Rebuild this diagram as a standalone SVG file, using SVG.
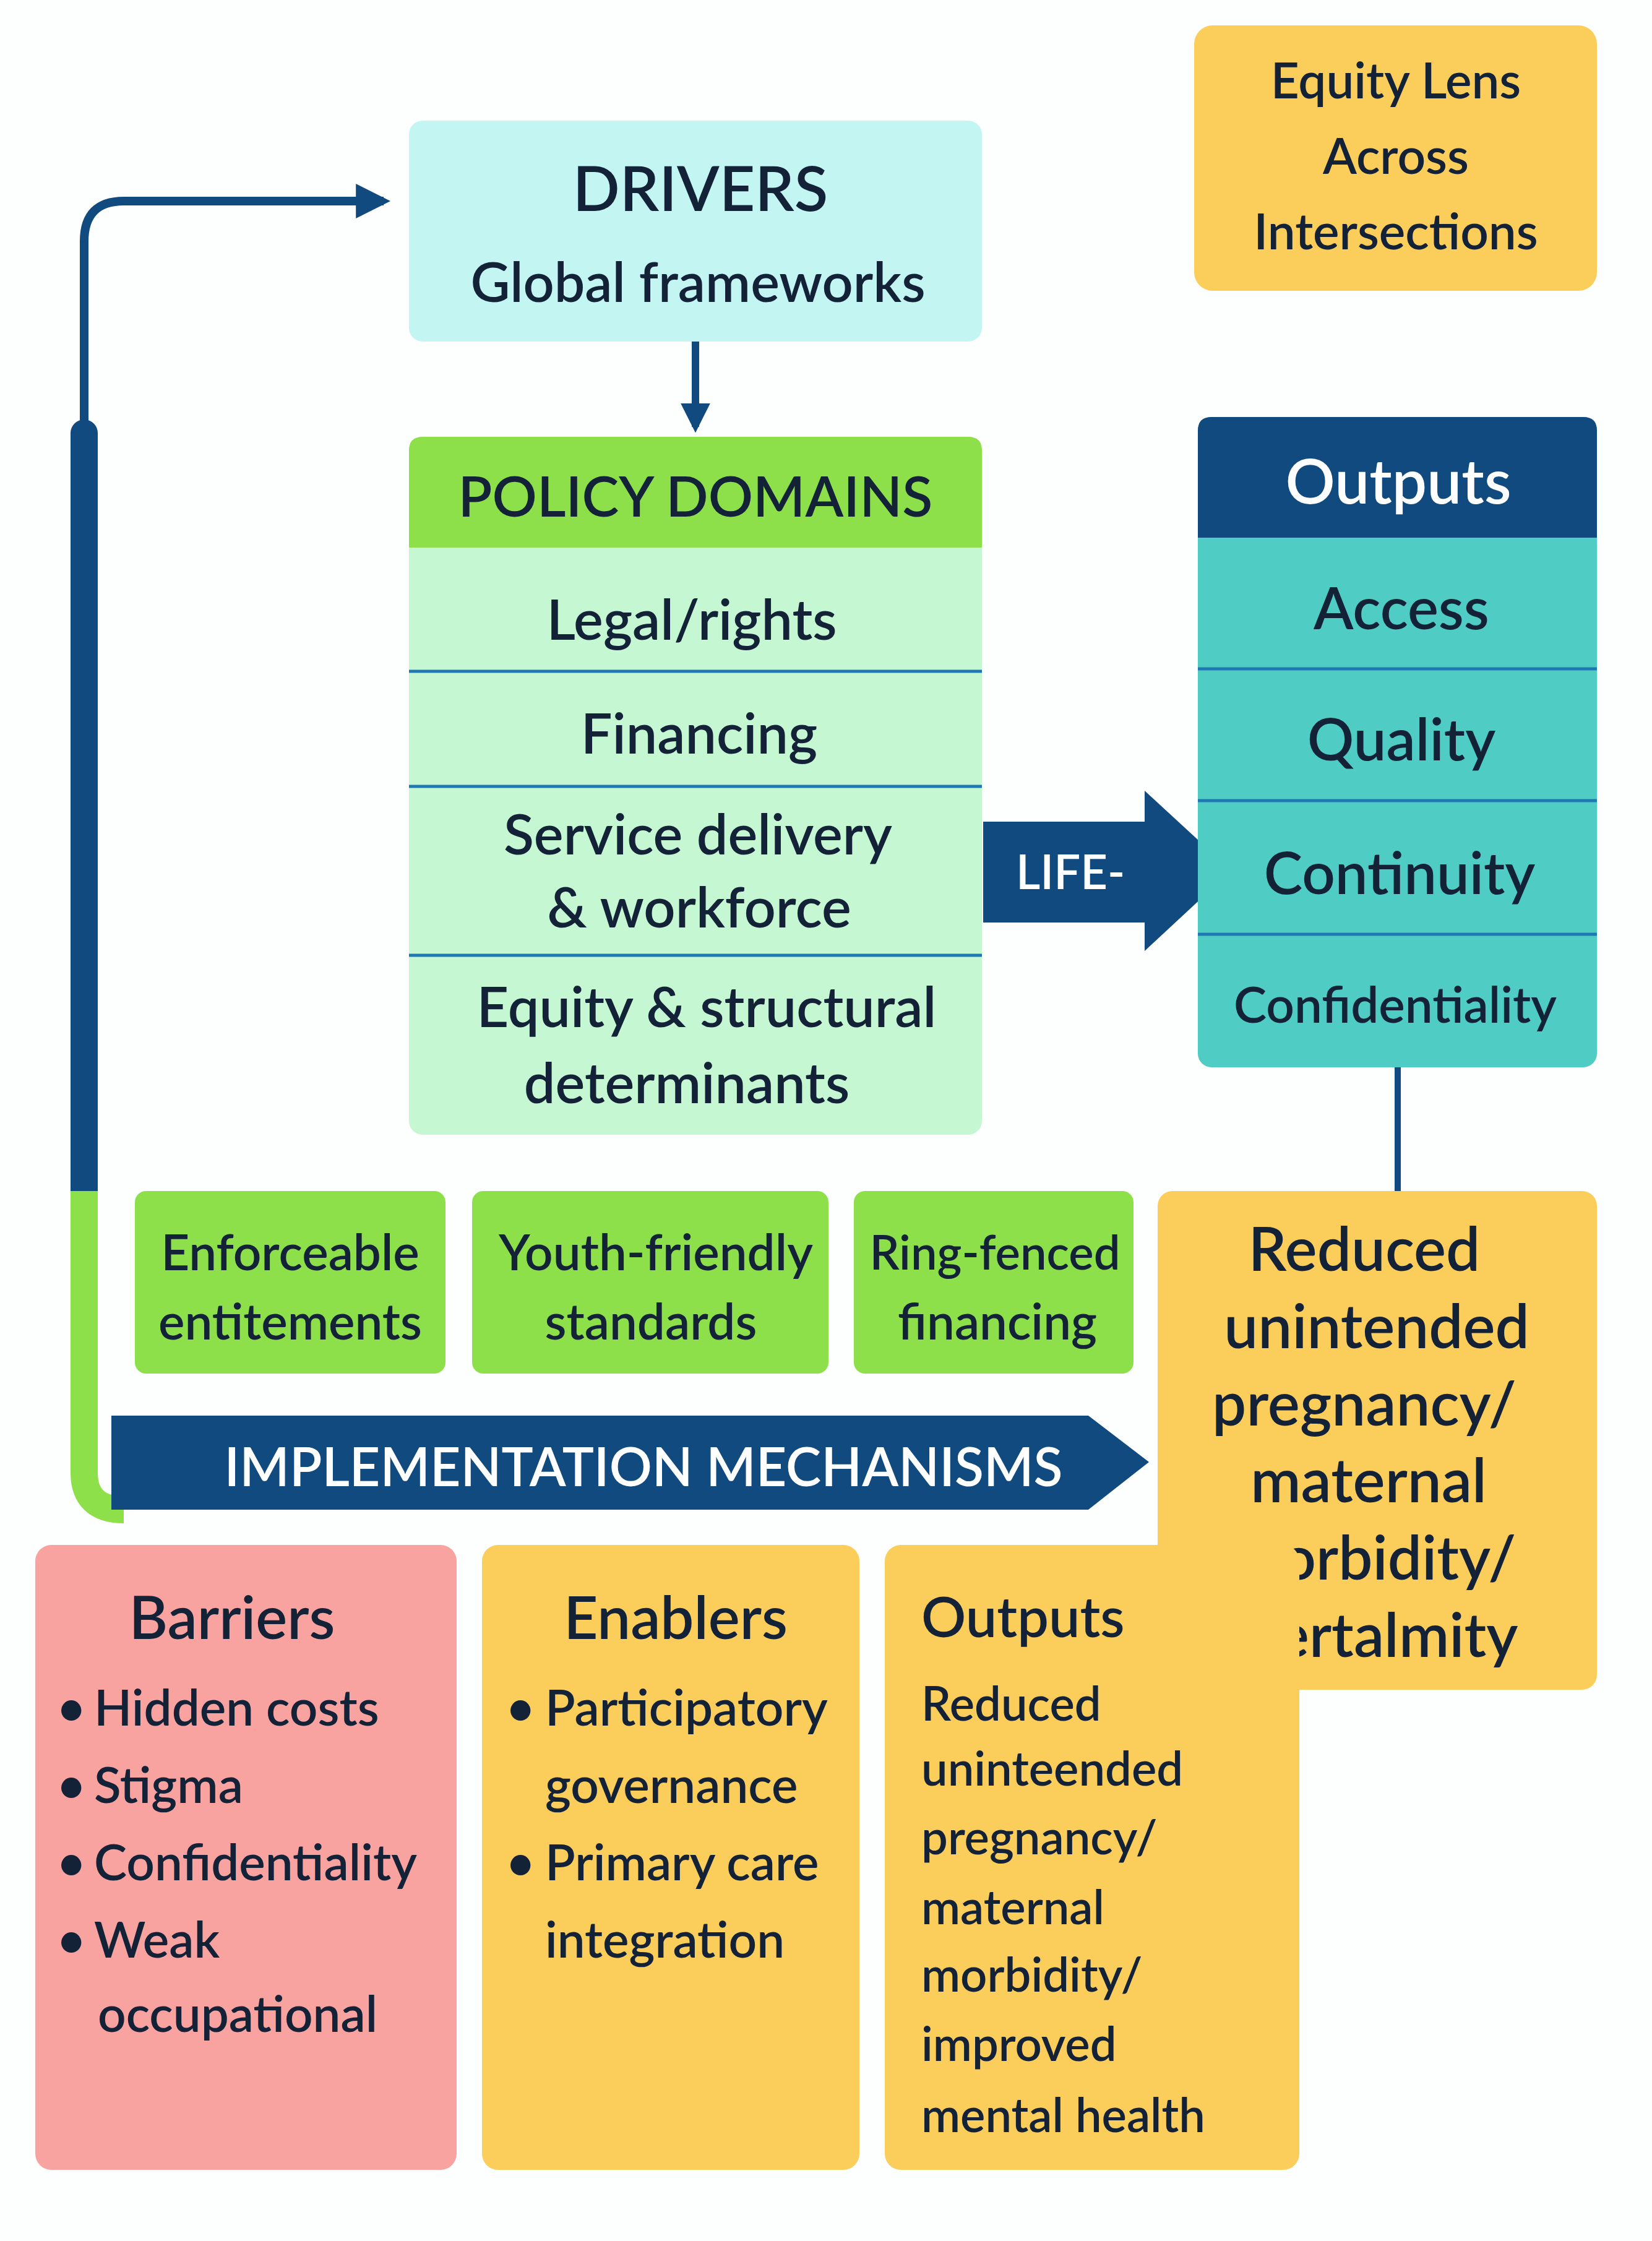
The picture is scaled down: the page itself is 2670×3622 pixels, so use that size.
<svg xmlns="http://www.w3.org/2000/svg" width="2670" height="3622" viewBox="0 0 2670 3622">
<style>
text{font-family:Lato,"Open Sans","Liberation Sans",sans-serif;font-weight:600;fill:#142238;dominant-baseline:central}
.c{text-anchor:middle}
.w{fill:#ffffff}
.div{stroke:#1f78b4;stroke-width:5}
</style>
<defs>
<marker id="ah" viewBox="0 0 10 10" refX="8" refY="5" markerWidth="4" markerHeight="4" orient="auto"><path d="M0,0 L10,5 L0,10 z" fill="#114a7e"/></marker>
</defs>
<rect width="2670" height="3622" fill="#fdfefe"/>
<g id="connectors">
<path d="M1124,552 V690" stroke="#114a7e" stroke-width="12" fill="none" marker-end="url(#ah)"/>
<path d="M2259,1725 V1925" stroke="#114a7e" stroke-width="10" fill="none"/>
<path d="M136,690 V390 Q136,325 200,325 H620" stroke="#114a7e" stroke-width="14" fill="none" marker-end="url(#ah)"/>
<path d="M136,700 V1925" stroke="#114a7e" stroke-width="44" fill="none" stroke-linecap="round"/>
<path d="M136,1925 V2380 Q136,2440 200,2440" stroke="#8ee04a" stroke-width="44" fill="none"/>
</g>
<g id="equity">
<rect x="1930" y="41" width="651" height="429" rx="30" fill="#fbcd5b"/>
<text class="c" x="2256" y="128" font-size="80">Equity Lens</text>
<text class="c" x="2256" y="250" font-size="80">Across</text>
<text class="c" x="2256" y="372" font-size="80">Intersections</text>
</g>
<g id="drivers">
<rect x="661" y="195" width="926" height="357" rx="22" fill="#c3f5f3"/>
<text class="c" x="1132" y="302" font-size="100">DRIVERS</text>
<text class="c" x="1128" y="454" font-size="88">Global frameworks</text>
</g>
<g id="policy">
<rect x="661" y="706" width="926" height="1128" rx="22" fill="#c6f7d3"/>
<path d="M661,885 V728 Q661,706 683,706 H1565 Q1587,706 1587,728 V885 Z" fill="#8ee04a"/>
<line class="div" x1="661" y1="1085" x2="1587" y2="1085"/>
<line class="div" x1="661" y1="1271" x2="1587" y2="1271"/>
<line class="div" x1="661" y1="1544" x2="1587" y2="1544"/>
<text class="c" x="1124" y="800" font-size="90">POLICY DOMAINS</text>
<text class="c" x="1118" y="999" font-size="90">Legal/rights</text>
<text class="c" x="1130" y="1183" font-size="90">Financing</text>
<text class="c" x="1128" y="1346" font-size="90">Service delivery</text>
<text class="c" x="1130" y="1464" font-size="90">&amp; workforce</text>
<text class="c" x="1142" y="1625" font-size="90">Equity &amp; structural</text>
<text class="c" x="1110" y="1748" font-size="90">determinants</text>
</g>
<g id="life">
<path d="M1589,1328 H1850 V1278 L1990,1407 L1850,1537 V1491 H1589 Z" fill="#114a7e"/>
<text x="1642" y="1407" font-size="76" class="w">LIFE-</text>
</g>
<g id="outputs">
<rect x="1936" y="674" width="645" height="1051" rx="22" fill="#4fcdc4"/>
<path d="M1936,869 V696 Q1936,674 1958,674 H2559 Q2581,674 2581,696 V869 Z" fill="#114a7e"/>
<line class="div" x1="1936" y1="1081" x2="2581" y2="1081"/>
<line class="div" x1="1936" y1="1294" x2="2581" y2="1294"/>
<line class="div" x1="1936" y1="1510" x2="2581" y2="1510"/>
<text class="c w" x="2260" y="775" font-size="100">Outputs</text>
<text class="c" x="2265" y="980" font-size="94">Access</text>
<text class="c" x="2265" y="1192" font-size="94">Quality</text>
<text class="c" x="2262" y="1408" font-size="94">Continuity</text>
<text class="c" x="2255" y="1622" font-size="80">Confidentiality</text>
</g>
<g id="mech1">
<rect x="218" y="1925" width="502" height="295" rx="18" fill="#8ee04a"/>
<text class="c" x="469" y="2022" font-size="80">Enforceable</text>
<text class="c" x="469" y="2134" font-size="80">entitements</text>
</g>
<g id="mech2">
<rect x="763" y="1925" width="576" height="295" rx="18" fill="#8ee04a"/>
<text class="c" x="1060" y="2022" font-size="80">Youth-friendly</text>
<text class="c" x="1052" y="2134" font-size="80">standards</text>
</g>
<g id="mech3">
<rect x="1380" y="1925" width="452" height="295" rx="18" fill="#8ee04a"/>
<text class="c" x="1608" y="2022" font-size="76">Ring-fenced</text>
<text class="c" x="1612" y="2134" font-size="80">financing</text>
</g>
<g id="implementation">
<path d="M180,2288 H1759 L1857,2363 L1759,2440 H180 Z" fill="#114a7e"/>
<text class="c w" x="1040" y="2368" font-size="86">IMPLEMENTATION MECHANISMS</text>
</g>
<g id="reduced">
<rect x="1871" y="1925" width="710" height="806" rx="24" fill="#fbcd5b"/>
<text class="c" x="2205" y="2016" font-size="98">Reduced</text>
<text class="c" x="2225" y="2141" font-size="98">unintended</text>
<text class="c" x="2205" y="2266" font-size="98">pregnancy/</text>
<text class="c" x="2212" y="2390" font-size="98">maternal</text>
<text class="c" x="2220" y="2515" font-size="98">morbidity/</text>
<text class="c" x="2218" y="2640" font-size="98">mertalmity</text>
</g>
<g id="barriers">
<rect x="57" y="2497" width="681" height="1010" rx="26" fill="#f9a3a0"/>
<text class="c" x="375" y="2611" font-size="96" font-weight="700">Barriers</text>
<text x="92" y="2758" font-size="80">•</text><text x="152" y="2758" font-size="80">Hidden costs</text>
<text x="92" y="2883" font-size="80">•</text><text x="152" y="2883" font-size="80">Stigma</text>
<text x="92" y="3008" font-size="80">•</text><text x="152" y="3008" font-size="80">Confidentiality</text>
<text x="92" y="3133" font-size="80">•</text><text x="152" y="3133" font-size="80">Weak</text>
<text x="158" y="3253" font-size="80">occupational</text>
</g>
<g id="enablers">
<rect x="779" y="2497" width="610" height="1010" rx="26" fill="#fbcd5b"/>
<text class="c" x="1092" y="2611" font-size="96" font-weight="700">Enablers</text>
<text x="818" y="2758" font-size="80">•</text><text x="881" y="2758" font-size="80">Participatory</text>
<text x="881" y="2883" font-size="80">governance</text>
<text x="818" y="3008" font-size="80">•</text><text x="881" y="3008" font-size="80">Primary care</text>
<text x="881" y="3133" font-size="80">integration</text>
</g>
<g id="outputs2">
<rect x="1430" y="2497" width="670" height="1010" rx="26" fill="#fbcd5b"/>
<text x="1489" y="2611" font-size="90">Outputs</text>
<text x="1489" y="2751" font-size="76">Reduced</text>
<text x="1489" y="2856" font-size="76">uninteended</text>
<text x="1489" y="2967" font-size="76">pregnancy/</text>
<text x="1489" y="3080" font-size="76">maternal</text>
<text x="1489" y="3189" font-size="76">morbidity/</text>
<text x="1489" y="3301" font-size="76">improved</text>
<text x="1489" y="3416" font-size="76">mental health</text>
</g>
</svg>
